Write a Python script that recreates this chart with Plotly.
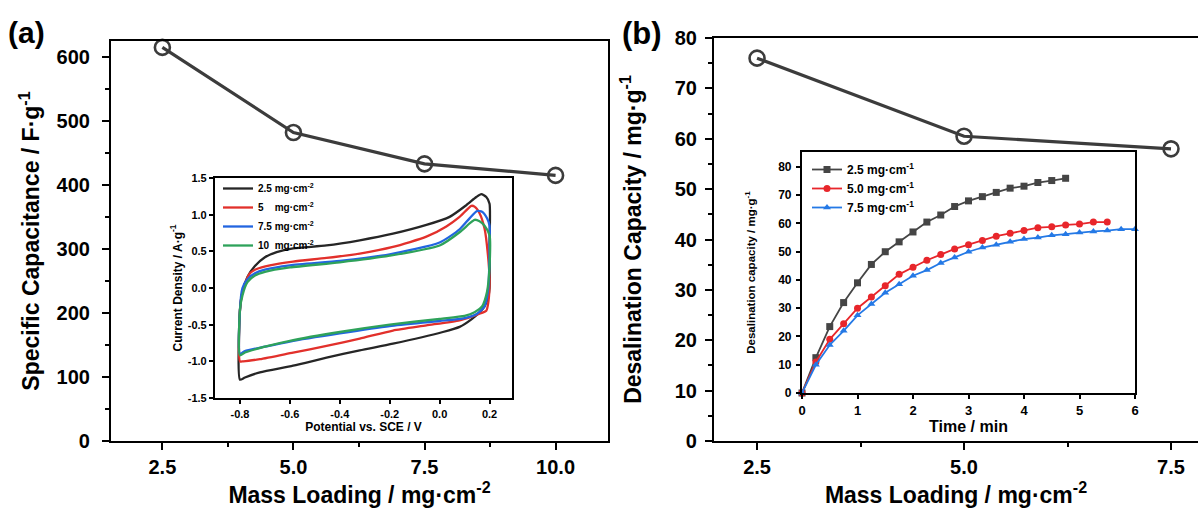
import plotly.graph_objects as go

W, H = 1198, 513
FONT = "Liberation Sans"

# ---------------- data ----------------
# (a) main: specific capacitance vs mass loading
mass_a = [2.5, 5.0, 7.5, 10.0]
cap_a = [615, 482, 433, 415]
a_xticks = [2.5, 5.0, 7.5, 10.0]
a_xlabels = ["2.5", "5.0", "7.5", "10.0"]
a_yticks = [0, 100, 200, 300, 400, 500, 600]

# (b) main: desalination capacity vs mass loading
mass_b = [2.5, 5.0, 7.5]
cap_b = [76, 60.5, 58]
b_xticks = [2.5, 5.0, 7.5]
b_xlabels = ["2.5", "5.0", "7.5"]
b_yticks = [0, 10, 20, 30, 40, 50, 60, 70, 80]

# (a) inset: CV loops (potential V, current density A/g)
cv_labels = ["2.5 mg·cm<sup>-2</sup>", "5    mg·cm<sup>-2</sup>", "7.5 mg·cm<sup>-2</sup>", "10  mg·cm<sup>-2</sup>"]
v_25 = [-0.8, -0.8, -0.79, -0.77, -0.74, -0.7, -0.653, -0.587, -0.453, -0.32, -0.187, -0.053, 0.04, 0.107, 0.147, 0.167, 0.187, 0.2, 0.2, 0.2, 0.195, 0.18, 0.16, 0.13, 0.08, 0.013, -0.187, -0.32, -0.453, -0.587, -0.72, -0.78, -0.8]
i_25 = [-1.25, -0.3, -0.05, 0.15, 0.3, 0.42, 0.49, 0.54, 0.58, 0.65, 0.74, 0.86, 0.97, 1.13, 1.24, 1.28, 1.24, 1.15, 0.6, 0.0, -0.12, -0.25, -0.33, -0.42, -0.53, -0.6, -0.76, -0.85, -0.95, -1.06, -1.15, -1.22, -1.25]
v_5 = [-0.8, -0.8, -0.79, -0.78, -0.76, -0.733, -0.68, -0.587, -0.453, -0.32, -0.187, -0.053, 0.027, 0.08, 0.127, 0.14, 0.16, 0.18, 0.193, 0.2, 0.195, 0.187, 0.16, 0.12, 0.08, -0.053, -0.187, -0.32, -0.453, -0.587, -0.72, -0.787, -0.8]
i_5 = [-1.0, -0.3, -0.05, 0.06, 0.2, 0.26, 0.31, 0.36, 0.41, 0.47, 0.56, 0.7, 0.84, 0.97, 1.12, 1.11, 1.02, 0.81, 0.47, 0.1, -0.2, -0.31, -0.35, -0.4, -0.44, -0.51, -0.58, -0.69, -0.79, -0.88, -0.97, -1.0, -1.0]
v_75 = [-0.8, -0.8, -0.79, -0.77, -0.74, -0.7, -0.6, -0.4, -0.2, 0.0, 0.08, 0.12, 0.15, 0.17, 0.19, 0.2, 0.2, 0.195, 0.18, 0.15, 0.1, 0.0, -0.2, -0.4, -0.6, -0.7, -0.78, -0.8]
i_75 = [-0.9, -0.3, 0.0, 0.12, 0.2, 0.25, 0.31, 0.37, 0.46, 0.62, 0.8, 0.95, 1.05, 1.04, 0.95, 0.85, 0.5, 0.0, -0.25, -0.35, -0.41, -0.45, -0.52, -0.62, -0.73, -0.8, -0.86, -0.9]
v_10 = [-0.8, -0.8, -0.79, -0.77, -0.74, -0.7, -0.6, -0.4, -0.2, 0.0, 0.08, 0.12, 0.14, 0.16, 0.18, 0.2, 0.2, 0.19, 0.17, 0.14, 0.1, 0.0, -0.2, -0.4, -0.6, -0.7, -0.78, -0.8]
i_10 = [-0.92, -0.3, -0.1, 0.08, 0.17, 0.22, 0.28, 0.35, 0.44, 0.58, 0.76, 0.88, 0.93, 0.91, 0.85, 0.72, 0.3, -0.05, -0.25, -0.33, -0.38, -0.42, -0.5, -0.6, -0.72, -0.8, -0.88, -0.92]
ia_xticks = [-0.8, -0.6, -0.4, -0.2, 0.0, 0.2]
ia_xlabels = ["-0.8", "-0.6", "-0.4", "-0.2", "0.0", "0.2"]
ia_yticks = [-1.5, -1.0, -0.5, 0.0, 0.5, 1.0, 1.5]
ia_ylabels = ["-1.5", "-1.0", "-0.5", "0.0", "0.5", "1.0", "1.5"]

# (b) inset: desalination capacity vs time
ds_labels = ["2.5 mg·cm<sup>-1</sup>", "5.0 mg·cm<sup>-1</sup>", "7.5 mg·cm<sup>-1</sup>"]
t_25 = [0, 0.25, 0.5, 0.75, 1.0, 1.25, 1.5, 1.75, 2.0, 2.25, 2.5, 2.75, 3.0, 3.25, 3.5, 3.75, 4.0, 4.25, 4.5, 4.75]
d_25 = [0, 12.5, 23.5, 32, 39, 45.5, 50, 53.5, 57, 60.5, 63, 66, 68, 69.5, 71, 72.5, 73.2, 74.5, 75.2, 76]
t_50 = [0, 0.25, 0.5, 0.75, 1.0, 1.25, 1.5, 1.75, 2.0, 2.25, 2.5, 2.75, 3.0, 3.25, 3.5, 3.75, 4.0, 4.25, 4.5, 4.75, 5.0, 5.25, 5.5]
d_50 = [0, 11, 19, 24.5, 30, 34, 38, 42, 44.5, 47, 49, 51, 52.5, 54, 55.5, 56.5, 57.5, 58.5, 58.8, 59.5, 59.8, 60.5, 60.5]
t_75 = [0, 0.25, 0.5, 0.75, 1.0, 1.25, 1.5, 1.75, 2.0, 2.25, 2.5, 2.75, 3.0, 3.25, 3.5, 3.75, 4.0, 4.25, 4.5, 4.75, 5.0, 5.25, 5.5, 5.75, 6.0]
d_75 = [0, 10, 17, 22, 27.5, 31.5, 35.5, 38.5, 41.5, 43.5, 46, 48, 50, 51.5, 52.5, 53.5, 54.5, 55, 55.8, 56.2, 56.8, 57.2, 57.5, 58, 58]
ib_xticks = [0, 1, 2, 3, 4, 5, 6]
ib_yticks = [0, 10, 20, 30, 40, 50, 60, 70, 80]

# ---------------- figure ----------------
fig = go.Figure()
GRAY = "#3c3c3c"

fig.add_trace(go.Scatter(x=mass_a, y=cap_a, mode="lines+markers", xaxis="x", yaxis="y",
                         line=dict(color=GRAY, width=3.2),
                         marker=dict(symbol="circle-open", size=15, color=GRAY, line=dict(width=2.6)),
                         showlegend=False, cliponaxis=False))

cv_colors = ["#262626", "#e2302b", "#2265e0", "#2ea25a"]
for v, i, c, lab in zip([v_25, v_5, v_75, v_10], [i_25, i_5, i_75, i_10], cv_colors, cv_labels):
    fig.add_trace(go.Scatter(x=v, y=i, mode="lines", xaxis="x2", yaxis="y2",
                             line=dict(color=c, width=2.3, shape="spline", smoothing=0.6),
                             name=lab, legend="legend"))

fig.add_trace(go.Scatter(x=mass_b, y=cap_b, mode="lines+markers", xaxis="x3", yaxis="y3",
                         line=dict(color=GRAY, width=3.2),
                         marker=dict(symbol="circle-open", size=15, color=GRAY, line=dict(width=2.6)),
                         showlegend=False, cliponaxis=False))

ds_colors = ["#454545", "#e8262b", "#2479e6"]
ds_symbols = ["square", "circle", "triangle-up"]
for t, d, c, s, lab in zip([t_25, t_50, t_75], [d_25, d_50, d_75], ds_colors, ds_symbols, ds_labels):
    fig.add_trace(go.Scatter(x=t, y=d, mode="lines+markers", xaxis="x4", yaxis="y4",
                             line=dict(color=c, width=1.8),
                             marker=dict(symbol=s, size=7, color=c),
                             name=lab, legend="legend2", cliponaxis=False))


def px_x(p):
    return p / W


def px_y(p):
    return 1 - p / H


bold = dict(family=FONT, color="black", weight="bold")


def axis(domain, rng, size, title, tsize, tickvals, ticktext=None, ticklen=7, minor=None,
         standoff=8, lstand=0, mirror=True, anchor=None):
    d = dict(domain=domain, range=rng, showgrid=False, zeroline=False,
             showline=True, linecolor="black", linewidth=2.2, mirror=mirror,
             ticks="outside", ticklen=ticklen, tickwidth=2, tickcolor="black",
             tickfont=dict(size=size, **bold), tickmode="array", tickvals=tickvals,
             ticktext=ticktext if ticktext is not None else [str(v) for v in tickvals],
             ticklabelstandoff=lstand,
             title=dict(text=title, font=dict(size=tsize, **bold), standoff=standoff),
             anchor=anchor)
    if minor:
        d["minor"] = minor
    return d


def mnr(dt, t0=0):
    return dict(ticks="outside", ticklen=4, tickwidth=2, tickcolor="black", dtick=dt, tick0=t0)


fig.update_layout(
    width=W, height=H,
    margin=dict(l=0, r=0, t=0, b=0, autoexpand=False),
    paper_bgcolor="white", plot_bgcolor="white",
    font=dict(family=FONT, color="black"),
    xaxis=axis([px_x(111), px_x(608)], [1.52, 11.0], 20, "Mass Loading / mg·cm<sup>-2</sup>", 23,
               a_xticks, a_xlabels, minor=mnr(1.25, 1.25), standoff=4, lstand=0, anchor="y"),
    yaxis=axis([px_y(441), px_y(41)], [0, 625], 20, "Specific Capacitance / F·g<sup>-1</sup>", 23,
               a_yticks, minor=mnr(50), standoff=10, lstand=8, anchor="x"),
    xaxis2=axis([px_x(215), px_x(512)], [-0.9, 0.29], 11, "Potential vs. SCE / V", 12,
                ia_xticks, ia_xlabels, ticklen=4, standoff=2, lstand=1, anchor="y2"),
    yaxis2=axis([px_y(398), px_y(178)], [-1.5, 1.5], 11, "Current Density / A·g<sup>-1</sup>", 12,
                ia_yticks, ia_ylabels, ticklen=4, standoff=3, anchor="x2"),
    xaxis3=axis([px_x(714), 1.0], [1.98, 7.826], 20, "Mass Loading / mg·cm<sup>-2</sup>", 23,
                b_xticks, b_xlabels, minor=mnr(1.25, 1.25), standoff=3, lstand=0, anchor="y3"),
    yaxis3=axis([px_y(441), px_y(38)], [0, 80], 20, "Desalination Capacity / mg·g<sup>-1</sup>", 23,
                b_yticks, minor=mnr(5), standoff=27, lstand=4, mirror=False, anchor="x3"),
    xaxis4=axis([px_x(802), px_x(1135)], [0, 6], 13, "Time / min", 16,
                ib_xticks, ticklen=4, standoff=0, lstand=0, anchor="y4"),
    yaxis4=axis([px_y(393), px_y(152)], [0, 85.3], 12, "Desalination capacity / mg·g<sup>-1</sup>", 11.5,
                ib_yticks, ticklen=4, standoff=20, lstand=2, anchor="x4"),
    legend=dict(x=px_x(218), y=px_y(174), xanchor="left", yanchor="top",
                bgcolor="rgba(0,0,0,0)", font=dict(size=10, **bold),
                tracegroupgap=0, itemwidth=30),
    legend2=dict(x=px_x(807), y=px_y(155), xanchor="left", yanchor="top",
                 bgcolor="rgba(0,0,0,0)", font=dict(size=12, **bold),
                 tracegroupgap=0, itemwidth=30),
    annotations=[
        dict(text="(a)", x=px_x(6), y=px_y(32), xref="paper", yref="paper", xanchor="left", yanchor="middle",
             showarrow=False, font=dict(size=30, **bold)),
        dict(text="(b)", x=px_x(620), y=px_y(33), xref="paper", yref="paper", xanchor="left", yanchor="middle",
             showarrow=False, font=dict(size=31, **bold)),
    ],
)

fig.write_html("out.html",
               config={"displayModeBar": False},
               post_script="document.body.style.margin='0';document.body.style.overflow='hidden';")
